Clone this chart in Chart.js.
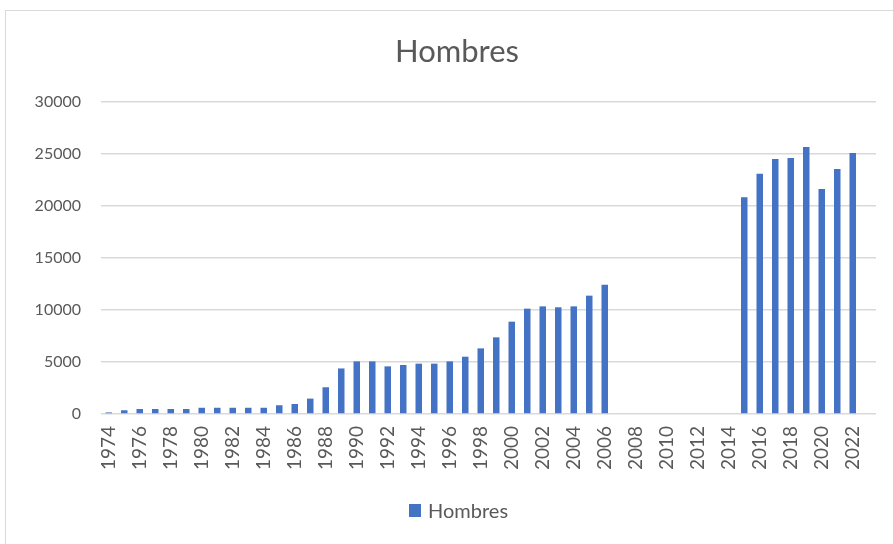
<!DOCTYPE html>
<html>
<head>
<meta charset="utf-8">
<script src="https://cdn.jsdelivr.net/npm/chart.js@4"></script>
<style>
  html, body { margin: 0; padding: 0; width: 893px; height: 544px; overflow: hidden; background: #fff; }
  #frame { position: absolute; left: 5px; top: 10px; width: 1000px; height: 1000px; border: 1px solid #d9d9d9; }
  #wrap { position: absolute; left: 0; top: 0; width: 893px; height: 544px; }
</style>
</head>
<body>
<div id="frame"></div>
<div id="wrap"><canvas id="c" width="893" height="544"></canvas></div>
<script>
const chartTitle = 'Hombres';
const seriesLabel = 'Hombres';
const years = [
  1974, 1975, 1976, 1977, 1978, 1979, 1980, 1981, 1982, 1983,
  1984, 1985, 1986, 1987, 1988, 1989, 1990, 1991, 1992, 1993,
  1994, 1995, 1996, 1997, 1998, 1999, 2000, 2001, 2002, 2003,
  2004, 2005, 2006, 2007, 2008, 2009, 2010, 2011, 2012, 2013,
  2014, 2015, 2016, 2017, 2018, 2019, 2020, 2021, 2022, 2023
];
const hombres = [
  150, 360, 480, 480, 480, 480, 600, 600, 600, 600,
  600, 840, 960, 1480, 2570, 4380, 5060, 5060, 4580, 4710,
  4840, 4840, 5060, 5510, 6310, 7370, 8880, 10130, 10350, 10260,
  10350, 11380, 12430, null, null, null, null, null, null, null,
  null, 20830, 23100, 24520, 24610, 25670, 21630, 23560, 25100, null
];
const yTicks = [0, 5000, 10000, 15000, 20000, 25000, 30000];

const textColor = '#595959';
const barColor = '#4472C4';

const titleLegendPlugin = {
  id: 'titleLegend',
  afterDraw(chart) {
    const ctx = chart.ctx;
    ctx.save();
    // title
    ctx.fillStyle = textColor;
    ctx.font = '31px Lato';
    ctx.textAlign = 'center';
    ctx.textBaseline = 'alphabetic';
    ctx.fillText(chartTitle, 457, 62);
    // legend
    ctx.fillStyle = barColor;
    ctx.fillRect(409, 504, 12, 13);
    ctx.fillStyle = textColor;
    ctx.font = '20px Lato';
    ctx.textAlign = 'left';
    ctx.fillText(chart.data.datasets[0].label, 428, 518);
    ctx.restore();
  }
};

new Chart(document.getElementById('c'), {
  type: 'bar',
  data: {
    labels: years.map(String),
    datasets: [{
      label: seriesLabel,
      data: hombres,
      backgroundColor: barColor,
      borderWidth: 0,
      barPercentage: 0.42,
      categoryPercentage: 1.0
    }]
  },
  options: {
    responsive: false,
    animation: false,
    devicePixelRatio: 1,
    layout: { padding: { left: 0, right: 17, top: 102, bottom: 0 } },
    plugins: {
      legend: { display: false },
      tooltip: { enabled: false },
      title: { display: false }
    },
    scales: {
      x: {
        grid: { display: false, drawTicks: false },
        border: { display: false },
        ticks: {
          autoSkip: false,
          minRotation: 90,
          maxRotation: 90,
          padding: 12,
          color: textColor,
          font: { family: 'Lato', size: 19 },
          callback: function (value, index) {
            return index % 2 === 0 ? this.getLabelForValue(value) : '';
          }
        },
        afterFit(scale) {
          scale.height = 130;
          scale.paddingLeft = 0;
          scale.paddingRight = 0;
        }
      },
      y: {
        min: yTicks[0],
        max: yTicks[yTicks.length - 1],
        grid: { color: '#d9d9d9', lineWidth: 1.5, drawTicks: false },
        border: { display: false },
        afterBuildTicks(scale) { scale.ticks = yTicks.map(v => ({ value: v })); },
        ticks: {
          padding: 20,
          color: textColor,
          font: { family: 'Lato', size: 16 },
          callback: v => String(v)
        },
        afterFit(scale) { scale.width = 101; }
      }
    }
  },
  plugins: [titleLegendPlugin]
});
</script>
</body>
</html>
